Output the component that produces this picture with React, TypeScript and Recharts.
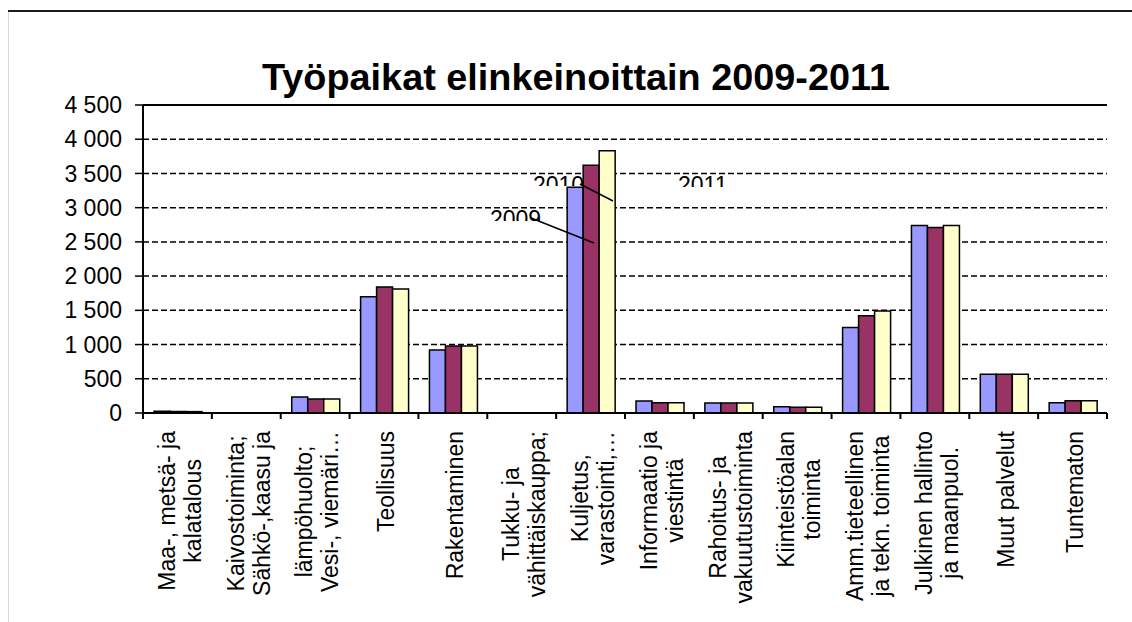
import React from "react";
import {
  BarChart,
  Bar,
  XAxis,
  YAxis,
  CartesianGrid,
  ReferenceLine,
} from "recharts";

// Toimialat (rivinvaihto = akselitekstin rivi)
const categories = [
  "Maa-, metsä- ja\nkalatalous",
  "Kaivostoiminta;\nSähkö-,kaasu ja",
  "lämpöhuolto;\nVesi-, viemäri…",
  "Teollisuus",
  "Rakentaminen",
  "Tukku- ja\nvähittäiskauppa;",
  "Kuljetus,\nvarastointi,…",
  "Informaatio ja\nviestintä",
  "Rahoitus- ja\nvakuutustoiminta",
  "Kiinteistöalan\ntoiminta",
  "Amm.tieteellinen\nja tekn. toiminta",
  "Julkinen hallinto\nja maanpuol.",
  "Muut palvelut",
  "Tuntematon",
];

const values2009 = [25, 0, 235, 1700, 920, 0, 3300, 175, 145, 90, 1250, 2740, 565, 150];
const values2010 = [22, 0, 205, 1840, 980, 0, 3620, 150, 145, 85, 1420, 2710, 565, 180];
const values2011 = [20, 0, 205, 1810, 980, 0, 3830, 150, 145, 85, 1490, 2740, 565, 180];

const seriesNames = ["2009", "2010", "2011"];
const seriesColors = ["#9999FF", "#993366", "#FFFFCC"];
const yTicks = [0, 500, 1000, 1500, 2000, 2500, 3000, 3500, 4000, 4500];

const title = "Työpaikat elinkeinoittain 2009-2011";
const FONT = '"Liberation Sans", Arial, sans-serif';

const data = categories.map((name, i) => ({
  name,
  s2009: values2009[i],
  s2010: values2010[i],
  s2011: values2011[i],
}));

const formatThousands = (v: number) =>
  String(v).replace(/\B(?=(\d{3})+(?!\d))/g, " ");

let measureCtx: CanvasRenderingContext2D | null = null;
const measure = (s: string, size: number) => {
  if (!measureCtx) measureCtx = document.createElement("canvas").getContext("2d");
  if (!measureCtx) return s.length * size * 0.5;
  measureCtx.font = `${size}px "Liberation Sans"`;
  return measureCtx.measureText(s).width;
};

const CategoryTick = (props: any) => {
  const { x, y, payload, index } = props;
  const lines = String(payload.value).split("\n");
  const fs = 23;
  const lineH = 26;
  const maxW = Math.max(...lines.map((l) => measure(l, fs)));
  const half = payload.offset ?? 34.4;
  const top = y + 18;
  return (
    <g>
      <line x1={x - half} y1={y} x2={x - half} y2={y + 6} stroke="#000" strokeWidth={2} />
      {index === categories.length - 1 && (
        <line x1={x + half} y1={y} x2={x + half} y2={y + 6} stroke="#000" strokeWidth={2} />
      )}
      <g transform={`translate(${x + 2},${top}) rotate(-90)`}>
        {lines.map((l, i) => (
          <text
            key={i}
            x={-maxW / 2}
            y={(i - (lines.length - 1) / 2) * lineH + fs * 0.36}
            textAnchor="middle"
            fontSize={fs}
            fontFamily={FONT}
            fill="#000"
          >
            {l}
          </text>
        ))}
      </g>
    </g>
  );
};

export default function App() {
  return (
    <div style={{ position: "fixed", left: 0, top: 0, width: 1132, height: 622, background: "#fff" }}>
      <div style={{ position: "absolute", left: 8, top: 10, width: 1124, height: 2, background: "#1a1a1a" }} />
      <div style={{ position: "absolute", left: 8, top: 12, width: 1, height: 610, background: "#d9d9d9" }} />

      <BarChart
        width={1132}
        height={622}
        data={data}
        margin={{ top: 105, right: 25, bottom: 0, left: 0 }}
        barCategoryGap="16%"
        barGap={0}
        style={{ position: "absolute", left: 0, top: 0 }}
      >
        <CartesianGrid
          vertical={false}
          stroke="#000"
          strokeWidth={1.5}
          strokeDasharray="6 3"
        />
        <XAxis
          dataKey="name"
          height={209}
          interval={0}
          tickLine={false}
          tickSize={0}
          tickMargin={0}
          axisLine={{ stroke: "#000", strokeWidth: 2 }}
          tick={<CategoryTick />}
        />
        <YAxis
          width={143}
          domain={[0, 4500]}
          ticks={yTicks}
          interval={0}
          tickSize={8}
          tickMargin={13}
          tickFormatter={(v) => formatThousands(Number(v))}
          axisLine={{ stroke: "#000", strokeWidth: 2 }}
          tickLine={{ stroke: "#000", strokeWidth: 1.5 }}
          tick={{ fontSize: 23, fill: "#000", fontFamily: FONT }}
        />
        <YAxis
          yAxisId="r"
          orientation="right"
          width={0}
          domain={[0, 4500]}
          tick={false}
          tickLine={false}
          axisLine={{ stroke: "#000", strokeWidth: 2 }}
        />
        <ReferenceLine y={4500} stroke="#000" strokeWidth={2} />
        {["s2009", "s2010", "s2011"].map((k, i) => (
          <Bar
            key={k}
            dataKey={k}
            name={seriesNames[i]}
            fill={seriesColors[i]}
            stroke="#000"
            strokeWidth={1.5}
            isAnimationActive={false}
          />
        ))}
      </BarChart>

      <svg
        width={1132}
        height={622}
        style={{ position: "absolute", left: 0, top: 0, pointerEvents: "none" }}
      >
        <defs>
          <clipPath id="c2009"><rect x={480} y={195} width={70} height={26} /></clipPath>
          <clipPath id="c2010"><rect x={525} y={160} width={70} height={26} /></clipPath>
          <clipPath id="c2011"><rect x={670} y={160} width={80} height={27} /></clipPath>
        </defs>
        <text
          x={576}
          y={90}
          textAnchor="middle"
          fontSize={37}
          fontWeight="bold"
          fontFamily={FONT}
          textLength={628}
          lengthAdjust="spacingAndGlyphs"
          fill="#000"
        >
          {title}
        </text>
        <text x={490} y={227} fontSize={23} fontFamily={FONT} clipPath="url(#c2009)">{seriesNames[0]}</text>
        <text x={533} y={193} fontSize={23} fontFamily={FONT} clipPath="url(#c2010)">{seriesNames[1]}</text>
        <text x={678} y={193} fontSize={23} fontFamily={FONT} clipPath="url(#c2011)">{seriesNames[2]}</text>
        <line x1={531} y1={218} x2={594} y2={243} stroke="#000" strokeWidth={1.5} />
        <line x1={580} y1={184} x2={613} y2={201} stroke="#000" strokeWidth={1.5} />
      </svg>
    </div>
  );
}
